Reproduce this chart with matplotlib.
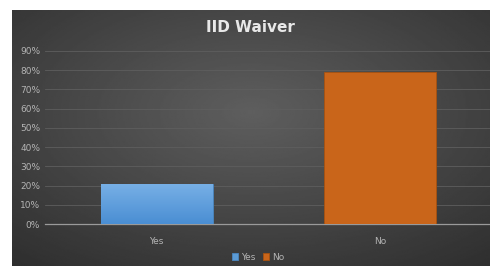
import numpy as np
import matplotlib.pyplot as plt
import matplotlib.ticker as ticker

categories = ["Yes", "No"]
values = [0.21, 0.79]
colors = ["#5b9bd5", "#c9651a"]
yticks = [0, 0.1, 0.2, 0.3, 0.4, 0.5, 0.6, 0.7, 0.8, 0.9]

fig = plt.figure(figsize=(4.9, 2.66), dpi=100)
fig.patch.set_facecolor("white")

# dark radial-gradient chart background
bg = fig.add_axes([12 / 490, 0, 1 - 12 / 490, 256 / 266])
yy, xx = np.mgrid[-1:1:200j, -1:1:300j]
r = np.sqrt(xx ** 2 + (yy + 0.2) ** 2) / np.sqrt(2)
bg.imshow(0.37 - 0.17 * r, cmap="gray", vmin=0, vmax=1, aspect="auto",
          extent=[0, 1, 0, 1])
bg.set_axis_off()

ax = fig.add_axes([45 / 490, 42 / 266, 447 / 490, 173 / 266])
ax.patch.set_alpha(0)
x = np.arange(len(categories))
bars = ax.bar(x, values, width=0.5, color=colors, zorder=3,
              edgecolor=["#4a86c0", "#a8520f"], linewidth=0.6)

# soft vertical gradient on the blue bar, like the original
grad = np.linspace(0, 1, 100).reshape(-1, 1)
b0 = bars[0]
im = ax.imshow(grad, cmap=plt.matplotlib.colors.LinearSegmentedColormap.from_list(
    "b", ["#4a8ed3", "#78b0e6"]), aspect="auto", origin="lower",
    extent=[b0.get_x(), b0.get_x() + b0.get_width(), 0, b0.get_height()], zorder=4)
im.set_clip_path(b0)

ax.set_xlim(-0.5, 1.5)
ax.set_ylim(0, 0.9)
ax.set_yticks(yticks)
ax.yaxis.set_major_formatter(ticker.PercentFormatter(1.0, decimals=0))
ax.set_xticks(x)
ax.set_xticklabels(categories)
ax.tick_params(colors="#b4b4b4", labelsize=6.5, length=0)
ax.tick_params(axis="x", pad=9)
ax.yaxis.grid(True, color="#5e5e5e", linewidth=0.6, zorder=0)
for s in ["top", "right", "left"]:
    ax.spines[s].set_visible(False)
ax.spines["bottom"].set_color("#9a9a9a")
ax.spines["bottom"].set_linewidth(0.9)

fig.text(250 / 490, 1 - 28 / 266, "IID Waiver", ha="center", va="center",
         fontsize=11, fontweight="bold", color="#e8e8e8")

leg = ax.legend(bars, categories, loc="center", bbox_to_anchor=(258 / 490, 9 / 266),
                bbox_transform=fig.transFigure, ncol=2, frameon=False,
                fontsize=6.5, handlelength=0.7, handleheight=0.7,
                handletextpad=0.3, columnspacing=0.8)
for t in leg.get_texts():
    t.set_color("#b4b4b4")

plt.savefig("out.png", dpi=100, facecolor="white")
